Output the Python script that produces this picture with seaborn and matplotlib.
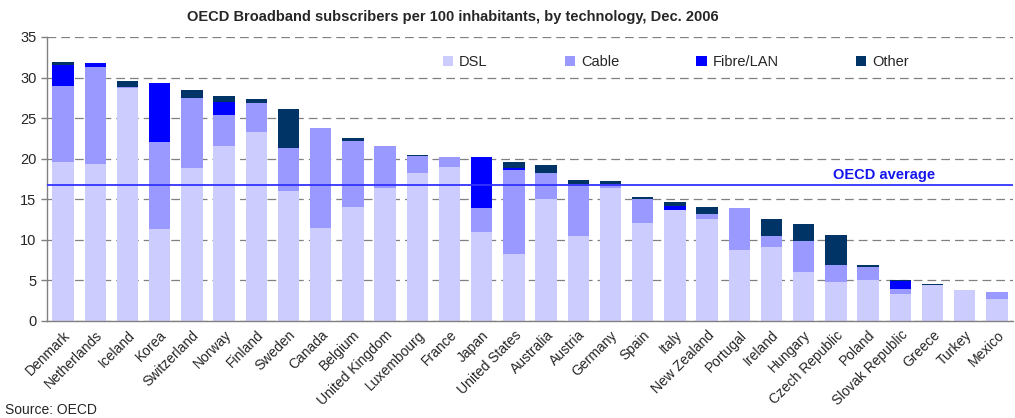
import numpy as np
import pandas as pd
import matplotlib
matplotlib.use("Agg")
import matplotlib.pyplot as plt
import seaborn as sns

# ── DATA (subscribers per 100 inhabitants, Dec. 2006) ───
countries = ["Denmark", "Netherlands", "Iceland", "Korea", "Switzerland", "Norway",
             "Finland", "Sweden", "Canada", "Belgium", "United Kingdom", "Luxembourg",
             "France", "Japan", "United States", "Australia", "Austria", "Germany",
             "Spain", "Italy", "New Zealand", "Portugal", "Ireland", "Hungary",
             "Czech Republic", "Poland", "Slovak Republic", "Greece", "Turkey", "Mexico"]
dsl   = [19.6, 19.4, 28.7, 11.3, 18.8, 21.6, 23.3, 16.0, 11.4, 14.1, 16.4, 18.2, 19.0, 11.0, 8.3,
         15.0, 10.5, 16.4, 12.1, 13.7, 12.6, 8.7, 9.1, 6.0, 4.8, 5.1, 3.3, 4.4, 3.8, 2.7]
cable = [9.4, 11.9, 0.1, 10.7, 8.7, 3.8, 3.6, 5.3, 12.4, 8.1, 5.2, 2.1, 1.2, 2.9, 10.3,
         3.2, 6.4, 0.5, 2.9, 0.0, 0.6, 5.2, 1.4, 3.8, 2.1, 1.6, 0.7, 0.0, 0.0, 0.9]
fibre = [2.5, 0.5, 0.0, 7.3, 0.0, 1.6, 0.0, 0.0, 0.0, 0.0, 0.0, 0.0, 0.0, 6.3, 0.3,
         0.0, 0.0, 0.0, 0.0, 0.5, 0.0, 0.0, 0.0, 0.0, 0.0, 0.0, 0.9, 0.0, 0.0, 0.0]
other = [0.4, 0.0, 0.8, 0.0, 1.0, 0.7, 0.4, 4.8, 0.0, 0.3, 0.0, 0.2, 0.0, 0.0, 0.7,
         1.0, 0.5, 0.3, 0.3, 0.5, 0.9, 0.0, 2.1, 2.1, 3.7, 0.2, 0.2, 0.2, 0.0, 0.0]
oecd_average = 16.7

series_names  = ["DSL", "Cable", "Fibre/LAN", "Other"]
series_colors = ["#CCCCFF", "#9999FF", "#0000FF", "#003366"]

df = pd.DataFrame({"country": countries, "DSL": dsl, "Cable": cable,
                   "Fibre/LAN": fibre, "Other": other})
# cumulative tops for stacking
cum = df[series_names].cumsum(axis=1)
for s in series_names:
    df["top_" + s] = cum[s]

# ── STYLE ───
sns.set_style("white")
plt.rcParams["font.family"] = ["Liberation Sans", "DejaVu Sans"]

fig = plt.figure(figsize=(10.15, 4.18), dpi=100)
ax = fig.add_axes([47 / 1015, 1 - 321 / 418, 966 / 1015, 284 / 418])

# draw tallest cumulative first so each layer sits over the one above it
for s, c in reversed(list(zip(series_names, series_colors))):
    sns.barplot(data=df, x="country", y="top_" + s, color=c, saturation=1,
                width=0.67, linewidth=0, ax=ax, zorder=2)

handles = [plt.Rectangle((0, 0), 1, 1, facecolor=c, edgecolor="none", label=s)
           for s, c in zip(series_names, series_colors)]

# OECD average line
ax.axhline(oecd_average, color="#3333FF", linewidth=1.3, zorder=4)
ax.text(25.5, oecd_average + 0.4, "OECD average", color="#1515F0", fontsize=10.5,
        fontweight="bold", ha="center", va="bottom", zorder=4)

# axes
ax.set_xlim(-0.5, len(countries) - 0.5)
ax.set_ylim(0, 35)
ax.set_yticks(np.arange(0, 36, 5))
ax.yaxis.grid(True, color="#808080", linestyle=(0, (7, 4)), linewidth=0.9, zorder=0)
ax.set_axisbelow(True)
ax.set_xlabel("")
ax.set_ylabel("")

ax.set_xticks(np.arange(len(countries)))
ax.set_xticklabels(countries, rotation=45, ha="right", rotation_mode="anchor", fontsize=10)
ax.set_xticks(np.arange(len(countries) + 1) - 0.5, minor=True)
ax.tick_params(axis="x", which="major", length=0, pad=5)
ax.tick_params(axis="x", which="minor", length=4, width=1, color="#808080", direction="out")
ax.tick_params(axis="y", length=4, width=1, color="#808080", direction="out",
               labelsize=10.5, left=True)

for side in ["top", "right"]:
    ax.spines[side].set_visible(False)
for side in ["left", "bottom"]:
    ax.spines[side].set_color("#808080")
    ax.spines[side].set_linewidth(1)

leg = fig.legend(handles=handles, loc="center left", bbox_to_anchor=(443 / 1015, 1 - 62 / 418),
                 ncol=4, frameon=False, fontsize=10.5, handlelength=0.7, handleheight=0.7,
                 handletextpad=0.4, columnspacing=5.3, borderpad=0, borderaxespad=0)

fig.text(453 / 1015, 1 - 17 / 418, "OECD Broadband subscribers per 100 inhabitants, by technology, Dec. 2006",
         ha="center", va="center", fontsize=10.5, fontweight="bold")
fig.text(5 / 1015, 1 - 410 / 418, "Source: OECD", ha="left", va="center", fontsize=10)

plt.savefig("out.png", dpi=100)
